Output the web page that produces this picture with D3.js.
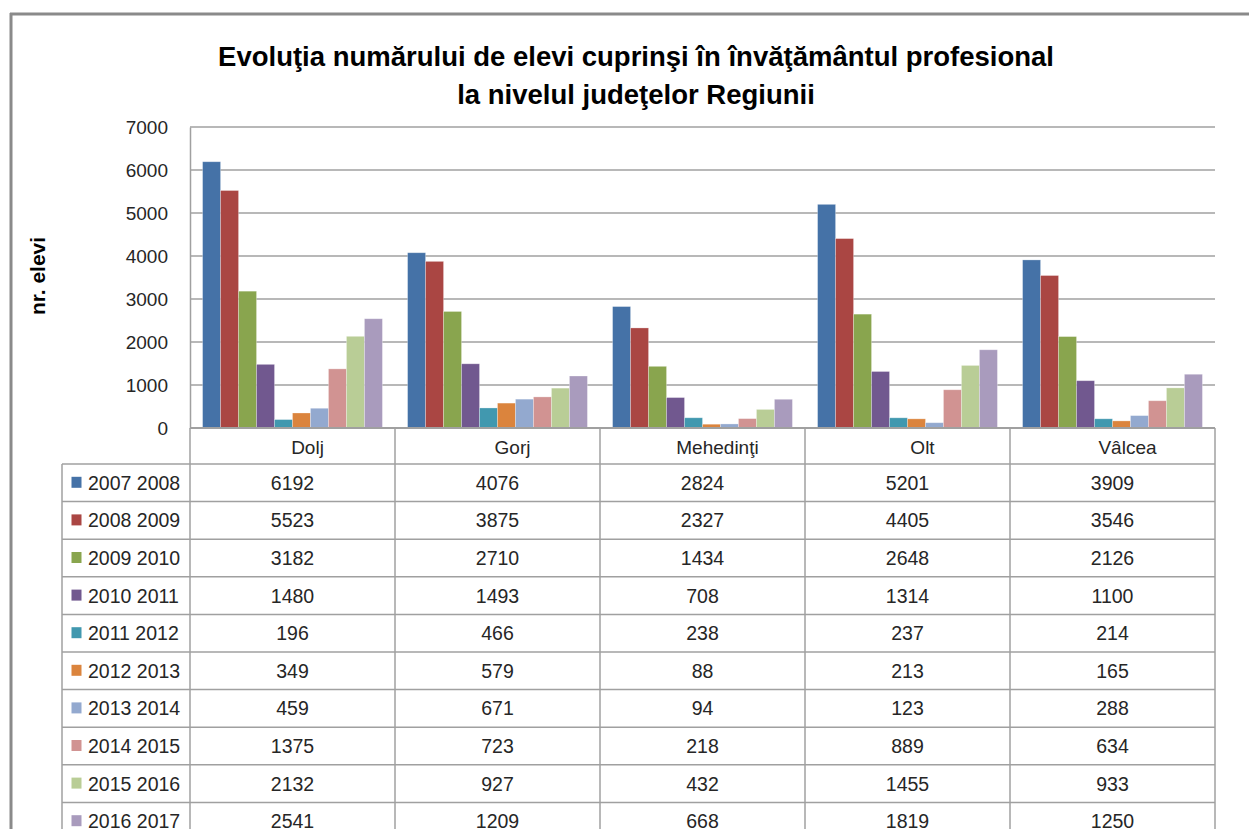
<!DOCTYPE html>
<html><head><meta charset="utf-8">
<script src="https://cdn.jsdelivr.net/npm/d3@7"></script>
<style>html,body{margin:0;padding:0;background:#fff;}svg{display:block;font-family:"Liberation Sans",Arial,sans-serif;}</style>
</head><body>
<svg id="c" width="1249" height="829"></svg>
<script>
const categories = ["Dolj","Gorj","Mehedinţi","Olt","Vâlcea"];
const seriesNames = ["2007 2008","2008 2009","2009 2010","2010 2011","2011 2012","2012 2013","2013 2014","2014 2015","2015 2016","2016 2017"];
const v2007 = [6192,4076,2824,5201,3909];
const v2008 = [5523,3875,2327,4405,3546];
const v2009 = [3182,2710,1434,2648,2126];
const v2010 = [1480,1493,708,1314,1100];
const v2011 = [196,466,238,237,214];
const v2012 = [349,579,88,213,165];
const v2013 = [459,671,94,123,288];
const v2014 = [1375,723,218,889,634];
const v2015 = [2132,927,432,1455,933];
const v2016 = [2541,1209,668,1819,1250];
const seriesValues = [v2007,v2008,v2009,v2010,v2011,v2012,v2013,v2014,v2015,v2016];
const colors = ["#4572A7","#AA4643","#89A54E","#71588F","#4198AF","#DB843D","#93A9CF","#D19392","#B9CD96","#A99BBD"];
const yTicks = [0,1000,2000,3000,4000,5000,6000,7000];
const titleLines = ["Evoluţia numărului de elevi cuprinşi în învăţământul profesional","la nivelul judeţelor Regiunii"];
const yTitle = "nr. elevi";

const svg = d3.select("#c");
const L = 190, R = 1215, T = 127, B = 428;
const gridC = "#a0a0a0";
const txtC = "#262626";

// frame
svg.append("line").attr("x1",10).attr("x2",1249).attr("y1",14).attr("y2",14).attr("stroke","#8a8a8a").attr("stroke-width",3);
svg.append("line").attr("x1",11).attr("x2",11).attr("y1",13).attr("y2",829).attr("stroke","#8a8a8a").attr("stroke-width",3);

// title
titleLines.forEach((t,i)=>{
  svg.append("text").attr("x",636).attr("y",[66,104][i]).attr("text-anchor","middle")
    .attr("font-weight","bold").attr("font-size",27.5).attr("fill","#000").text(t);
});

const x = d3.scaleBand().domain(categories).range([L,R]).paddingInner(0).paddingOuter(0);
const xs = d3.scaleBand().domain(seriesNames).range([0,x.bandwidth()]).paddingOuter(0.7).paddingInner(0);
const y = d3.scaleLinear().domain([0,7000]).range([B,T]);

// gridlines
svg.append("g").selectAll("line").data(yTicks.filter(d=>d>0)).join("line")
  .attr("x1",L).attr("x2",R).attr("y1",d=>y(d)).attr("y2",d=>y(d))
  .attr("stroke",gridC).attr("stroke-width",1.5);

// y axis
const ya = svg.append("g").attr("transform",`translate(${L},0)`)
  .call(d3.axisLeft(y).tickValues(yTicks).tickSize(0).tickPadding(22).tickFormat(d3.format("d")));
ya.select(".domain").attr("stroke",gridC).attr("stroke-width",1.5);
ya.selectAll("text").attr("font-size",19).attr("fill",txtC).attr("font-family","Liberation Sans, Arial, sans-serif");

svg.append("text").attr("transform","translate(45,276) rotate(-90)").attr("text-anchor","middle")
  .attr("font-weight","bold").attr("font-size",21).attr("fill","#000").text(yTitle);

// bars
const gs = svg.append("g").selectAll("g").data(seriesNames).join("g").attr("fill",(d,i)=>colors[i]);
gs.selectAll("rect").data((s,i)=>categories.map((c,j)=>({c,s,v:seriesValues[i][j]}))).join("rect")
  .attr("x",d=>x(d.c)+xs(d.s)).attr("width",xs.bandwidth())
  .attr("y",d=>y(d.v)).attr("height",d=>y(0)-y(d.v))
  .attr("stroke","rgba(255,255,255,0.35)").attr("stroke-width",0.8);

// table
const rowTop = 464, rowH = 37.6, tabL = 62;
const nRows = seriesNames.length;
const tg = svg.append("g");
tg.append("line").attr("x1",L).attr("x2",R).attr("y1",B).attr("y2",B).attr("stroke",gridC).attr("stroke-width",2);
for(let r=0;r<=nRows;r++){
  const yy = rowTop + r*rowH;
  tg.append("line").attr("x1",tabL).attr("x2",R).attr("y1",yy).attr("y2",yy).attr("stroke",gridC).attr("stroke-width",1.5);
}
const vx = [L].concat(categories.map(c=>x(c)+x.bandwidth()));
vx.forEach(xx=>{
  tg.append("line").attr("x1",xx).attr("x2",xx).attr("y1",B).attr("y2",829).attr("stroke",gridC).attr("stroke-width",1.5);
});
tg.append("line").attr("x1",tabL).attr("x2",tabL).attr("y1",rowTop).attr("y2",829).attr("stroke",gridC).attr("stroke-width",1.5);

tg.selectAll("text.h").data(categories).join("text").attr("class","h")
  .attr("x",c=>x(c)+x.bandwidth()/2+15).attr("y",454).attr("text-anchor","middle")
  .attr("font-size",19).attr("fill",txtC).text(c=>c);

seriesNames.forEach((s,i)=>{
  const yc = rowTop + i*rowH + rowH/2;
  tg.append("rect").attr("x",71.5).attr("y",yc-6).attr("width",10).attr("height",11).attr("fill",colors[i]);
  tg.append("text").attr("x",88).attr("y",yc+7).attr("font-size",19.5).attr("fill",txtC).text(s);
  categories.forEach((c,j)=>{
    tg.append("text").attr("x",x(c)+x.bandwidth()/2).attr("y",yc+7).attr("text-anchor","middle")
      .attr("font-size",19.5).attr("fill",txtC).text(seriesValues[i][j]);
  });
});
</script>
</body></html>
